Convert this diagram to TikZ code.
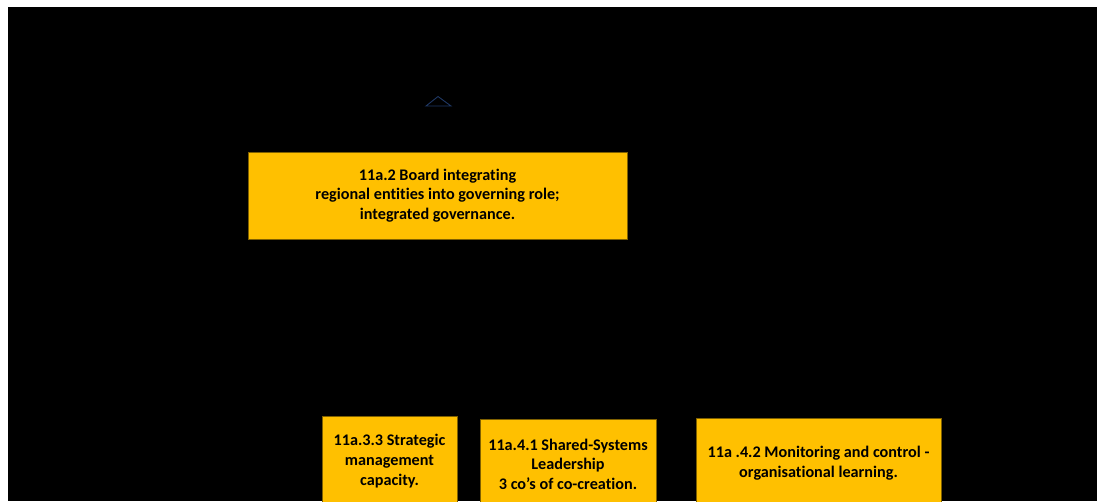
\documentclass[tikz,border=0pt]{standalone}
\usepackage{fontspec}
\setmainfont{Carlito}[Ligatures=CommonOff]
\definecolor{boxfill}{HTML}{FFC000}
\definecolor{boxline}{HTML}{7F6000}
\definecolor{markblue}{HTML}{1F3864}
\begin{document}
\begin{tikzpicture}[x=1pt,y=-1pt,
  goal/.style={rectangle, fill=boxfill, draw=boxline, line width=0.8pt,
    inner sep=0pt, align=center, font=\bfseries\fontsize{16.2}{19.6}\selectfont,
    text=black},
]
\useasboundingbox (0,0) rectangle (1097,501);
\clip (0,0) rectangle (1097,501);
% page background
\fill[white] (0,0) rectangle (1097,501);
\fill[black] (8,7) rectangle (1097,501);

% small outlined triangle marker
\draw[markblue, line width=0.9pt, line join=miter] (426,106) -- (438,96.5) -- (451,106) -- cycle;

% goal boxes
\node[goal, minimum width=379pt, minimum height=87pt] (board) at (437.5,195.5)
  {11a.2 Board integrating\\regional entities into governing role;\\integrated governance.};
\node[goal, minimum width=135pt, minimum height=90pt] (strategic) at (389.5,461)
  {11a.3.3 Strategic\\management\\capacity.};
\node[goal, minimum width=176pt, minimum height=90pt] (shared) at (568,464)
  {11a.4.1 Shared-Systems\\Leadership\\3 co’s of co-creation.};
\node[goal, minimum width=245pt, minimum height=90pt] (monitor) at (818.5,463)
  {11a .4.2 Monitoring and control -\\organisational learning.};
\end{tikzpicture}
\end{document}
